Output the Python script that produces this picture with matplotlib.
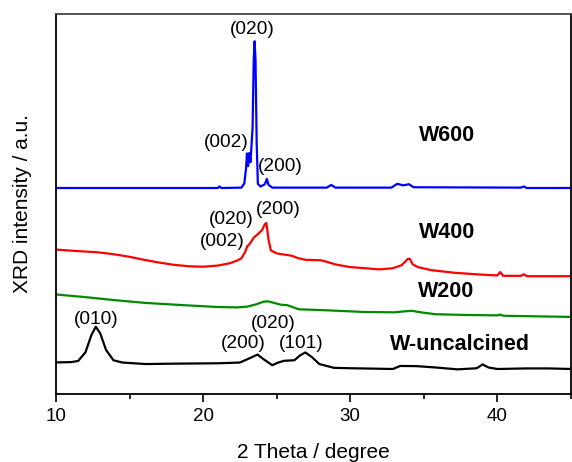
import matplotlib
matplotlib.use("Agg")
import matplotlib.pyplot as plt
from matplotlib.ticker import MultipleLocator

plt.rcParams['font.family'] = ['Liberation Sans', 'DejaVu Sans']

# W600
two_theta_w600 = [10.0, 21.0, 21.1, 21.25, 22.6, 22.8, 22.92, 22.98, 23.06, 23.14, 23.22,
                  23.36, 23.44, 23.5, 23.56, 23.64, 23.72, 23.9, 24.2, 24.33, 24.45, 24.7,
                  28.4, 28.7, 29.0, 32.8, 33.2, 33.6, 34.0, 34.3, 41.6, 41.8, 42.0, 45.0]
int_w600 = [54.2, 54.2, 54.6, 54.2, 54.3, 55.4, 59.5, 63.3, 60.0, 63.4, 61.0,
            70.0, 88.0, 92.8, 88.0, 66.0, 55.3, 54.6, 55.2, 56.6, 55.0, 54.3,
            54.3, 55.0, 54.3, 54.3, 55.3, 54.9, 55.2, 54.4, 54.3, 54.6, 54.2, 54.2]

# W400
two_theta_w400 = [10.0, 11.5, 12.8, 13.9, 15.0, 16.0, 17.0, 18.0, 19.1, 20.0, 21.0, 21.8,
                  22.3, 22.6, 22.85, 23.0, 23.07, 23.2, 23.45, 23.7, 24.0, 24.2, 24.3,
                  24.45, 24.6, 25.0, 26.0, 26.5, 27.0, 28.0, 28.4, 29.0, 30.0, 31.0, 32.0,
                  32.9, 33.5, 33.9, 34.05, 34.25, 34.6, 35.5, 37.1, 39.0, 40.0, 40.2, 40.4,
                  41.6, 41.8, 42.0, 45.0]
int_w400 = [38.0, 37.6, 37.3, 36.8, 36.1, 35.3, 34.6, 34.0, 33.6, 33.5, 33.8, 34.4,
            35.1, 35.7, 37.3, 38.9, 39.1, 39.7, 41.2, 42.0, 43.1, 44.7, 45.0,
            40.5, 37.8, 37.0, 36.4, 35.7, 35.3, 35.2, 34.8, 34.1, 33.4, 33.1, 32.8,
            33.1, 33.9, 35.5, 35.6, 34.1, 33.4, 32.6, 31.9, 31.4, 31.2, 32.1, 31.1,
            31.1, 31.5, 31.0, 31.0]

# W200
two_theta_w200 = [10.0, 12.0, 14.0, 16.0, 18.6, 21.0, 22.3, 23.0, 23.6, 24.1, 24.4, 24.8,
                  25.3, 25.7, 26.0, 26.5, 28.0, 30.9, 33.0, 33.8, 34.2, 34.8, 35.8, 38.0,
                  40.0, 40.2, 40.4, 45.0]
int_w200 = [26.2, 25.5, 24.7, 24.0, 23.4, 22.9, 22.8, 23.0, 23.6, 24.3, 24.4, 24.0,
            23.5, 23.4, 23.0, 22.3, 22.1, 21.6, 21.5, 21.8, 21.9, 21.5, 21.0, 20.8,
            20.7, 20.9, 20.6, 20.3]

# W-uncalcined
two_theta_wu = [10.0, 11.0, 11.5, 12.0, 12.4, 12.7, 13.0, 13.4, 13.9, 14.5, 16.1, 18.0,
                21.0, 22.5, 23.2, 23.7, 24.1, 24.7, 25.1, 25.5, 26.2, 26.6, 26.95, 27.4,
                27.9, 28.9, 30.0, 32.9, 33.4, 34.5, 35.8, 37.3, 38.6, 39.0, 39.4, 40.0,
                42.0, 43.5, 45.0]
int_wu = [8.33, 8.4, 8.7, 11.0, 15.5, 17.7, 16.0, 11.6, 8.9, 8.3, 7.9, 8.0,
          8.1, 8.3, 9.5, 10.4, 9.2, 7.6, 8.3, 8.75, 8.9, 10.2, 10.95, 9.7,
          7.9, 6.9, 6.8, 6.6, 7.4, 7.35, 7.0, 6.5, 6.8, 7.8, 7.0, 6.6,
          6.75, 6.75, 6.6]

# peak labels (text, 2theta, height)
peak_labels = [("(020)", 23.37, 95.9), ("(002)", 21.58, 66.2), ("(200)", 25.27, 59.9),
               ("(200)", 25.1, 48.5), ("(020)", 21.89, 45.9), ("(002)", 21.31, 40.2),
               ("(010)", 12.75, 19.6), ("(020)", 24.76, 18.6), ("(200)", 22.7, 13.3),
               ("(101)", 26.66, 13.3)]
sample_labels = [("W600", 36.58, 68.0), ("W400", 36.58, 42.4), ("W200", 36.53, 26.9),
                 ("W-uncalcined", 37.44, 13.1)]

fig = plt.figure(figsize=(5.72, 4.62), dpi=100)
ax = fig.add_axes([0.098, 0.147, 0.9, 0.823])

ax.plot(two_theta_w600, int_w600, color='#0000ff', lw=1.6)
ax.plot(two_theta_w400, int_w400, color='#ff0000', lw=1.6)
ax.plot(two_theta_w200, int_w200, color='#008a00', lw=1.6)
ax.plot(two_theta_wu, int_wu, color='black', lw=1.6)

for txt, x, y in peak_labels:
    ax.text(x, y, txt, fontsize=13.8, ha='center', va='center')
for txt, x, y in sample_labels:
    ax.text(x, y, txt, fontsize=15.5, fontweight='bold', ha='center', va='center')

ax.set_xlim(10, 45)
ax.set_ylim(0, 100)
ax.xaxis.set_major_locator(MultipleLocator(10))
ax.xaxis.set_minor_locator(MultipleLocator(5))
ax.tick_params(axis='x', which='major', direction='out', length=6, width=1.2,
               labelsize=13.5, pad=4)
ax.tick_params(axis='x', which='minor', direction='out', length=3.5, width=1.2)
ax.set_yticks([])
for s in ax.spines.values():
    s.set_linewidth(1.3)
ax.spines['top'].set_color('#444444')

ax.set_xlabel('2 Theta / degree', fontsize=15, labelpad=13)
ax.set_ylabel('XRD intensity / a.u.', fontsize=15, labelpad=17)

fig.savefig('out.png', dpi=100)
